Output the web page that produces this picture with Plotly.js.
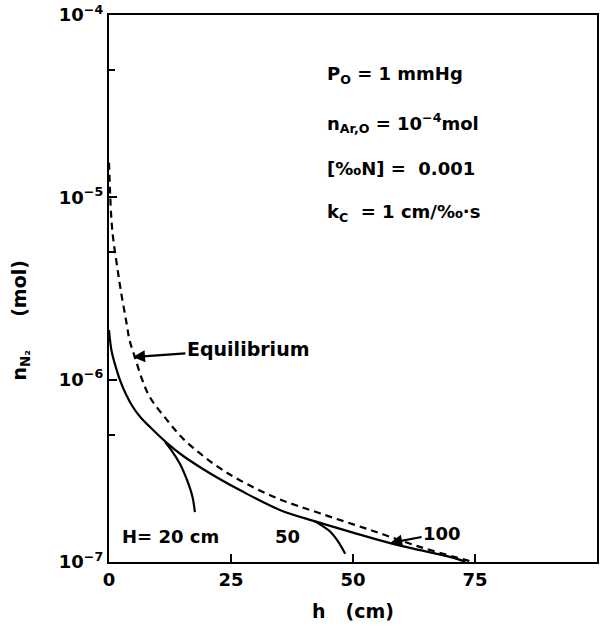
<!DOCTYPE html>
<html>
<head>
<meta charset="utf-8">
<script src="https://cdn.plot.ly/plotly-3.0.1.min.js"></script>
<style>html,body{margin:0;padding:0;background:#fff;}#chart{width:615px;height:636px;}</style>
</head>
<body>
<div id="chart"></div>
<script>
// Equilibrium (dashed)
const hEq = [0, 0.2, 0.5, 0.9, 1.6, 2.4, 3.6, 4.2, 5.3, 6.8, 8.4, 11.9, 15.0, 18.6, 22.5, 26.8, 34.4, 43.2, 53.5, 63.7, 73.4, 74.5];
const nEq = [1.55e-5, 1.1e-5, 7.5e-6, 5.8e-6, 4.3e-6, 3.1e-6, 2.04e-6, 1.65e-6, 1.33e-6, 1.0e-6, 8.0e-7, 6.0e-7, 4.8e-7, 3.95e-7, 3.3e-7, 2.81e-7, 2.24e-7, 1.85e-7, 1.5e-7, 1.21e-7, 1.02e-7, 1.0e-7];
// H = 100 cm (main solid curve)
const h100 = [0, 0.5, 1.2, 2.25, 3.5, 4.9, 6.5, 8.4, 11.9, 15.0, 18.6, 22.5, 26.8, 35.0, 42.6, 50.0, 57.6, 64.5, 71.3, 73.0];
const n100 = [1.87e-6, 1.45e-6, 1.22e-6, 9.95e-7, 8.3e-7, 7.08e-7, 6.2e-7, 5.5e-7, 4.49e-7, 3.85e-7, 3.32e-7, 2.87e-7, 2.48e-7, 1.93e-7, 1.66e-7, 1.45e-7, 1.27e-7, 1.15e-7, 1.04e-7, 1.0e-7];
// H = 20 cm branch
const h20 = [11.5, 12.8, 14.5, 16.0, 17.1, 17.6];
const n20 = [4.55e-7, 4.1e-7, 3.47e-7, 2.81e-7, 2.28e-7, 1.88e-7];
// H = 50 cm branch
const h50 = [42.0, 44.0, 45.3, 47.0, 48.4];
const n50 = [1.68e-7, 1.56e-7, 1.47e-7, 1.29e-7, 1.11e-7];

const xTickVals = [0, 25, 50, 75, 100];
const xTickText = ['0', '25', '50', '75', '100'];
const yTickVals = [1e-7, 1e-6, 1e-5, 1e-4];
const yTickText = ['10<sup>−7</sup>', '10<sup>−6</sup>', '10<sup>−5</sup>', '10<sup>−4</sup>'];
const yMinorVals = [5e-7, 5e-6, 5e-5];

const params = [
  'P<sub>O</sub> = 1 mmHg',
  'n<sub>Ar,O</sub> = 10<sup>−4</sup>mol',
  '[‰N] =  0.001',
  'k<sub>C</sub>  = 1 cm/‰·s'
];

const FONT = 'DejaVu Sans, sans-serif';
const lineStyle = {color: '#000', width: 2.2, shape: 'spline', smoothing: 1};

const traces = [
  {x: hEq, y: nEq, mode: 'lines', line: Object.assign({}, lineStyle, {dash: '7px,5px'}), hoverinfo: 'skip'},
  {x: h100, y: n100, mode: 'lines', line: lineStyle, hoverinfo: 'skip'},
  {x: h20, y: n20, mode: 'lines', line: lineStyle, hoverinfo: 'skip'},
  {x: h50, y: n50, mode: 'lines', line: lineStyle, hoverinfo: 'skip'},
  {x: [0], y: [1e-7], yaxis: 'y2', mode: 'markers', marker: {opacity: 0}, hoverinfo: 'skip'}
];

const bold = (size) => ({family: FONT, size: size, color: '#000', weight: 'bold'});

const paramY = [-4.33, -4.59, -4.84, -5.085];
const annotations = params.map((t, i) => ({
  text: t, xref: 'x', yref: 'y', x: 44.3, y: paramY[i], xanchor: 'left', yanchor: 'middle',
  showarrow: false, font: bold(18)
}));
annotations.push(
  {text: 'Equilibrium', xref: 'x', yref: 'y', x: 4.9, y: -5.876, ax: 115, ay: -8,
   showarrow: true, arrowhead: 2, arrowsize: 1.1, arrowwidth: 2.2, arrowcolor: '#000', standoff: 0,
   font: bold(19)},
  {text: 'H= 20 cm', xref: 'x', yref: 'y', x: 12.6, y: -6.86, showarrow: false, font: bold(18)},
  {text: '50', xref: 'x', yref: 'y', x: 36.6, y: -6.86, showarrow: false, font: bold(18)},
  {text: '100', xref: 'x', yref: 'y', x: 57.6, y: -6.896, ax: 52, ay: -10,
   showarrow: true, arrowhead: 2, arrowsize: 1.1, arrowwidth: 2.2, arrowcolor: '#000', standoff: 0,
   font: bold(18)},
  {text: 'n<sub>N₂</sub>     (mol)', xref: 'paper', yref: 'paper', x: -0.182, y: 0.442,
   xanchor: 'center', yanchor: 'middle', textangle: -90, showarrow: false, font: bold(19)}
);

const layout = {
  width: 615, height: 636,
  margin: {l: 109, r: 18, t: 15, b: 74},
  paper_bgcolor: '#fff', plot_bgcolor: '#fff',
  showlegend: false,
  font: {family: FONT, size: 18, color: '#000'},
  xaxis: {
    range: [0, 100], tickvals: xTickVals, ticktext: xTickText,
    ticks: 'inside', ticklen: 8, tickwidth: 2, tickcolor: '#000',
    showline: true, linewidth: 2.2, linecolor: '#000', mirror: true,
    showgrid: false, zeroline: false,
    tickfont: bold(18),
    title: {text: 'h   (cm)', font: bold(19), standoff: 16}
  },
  yaxis: {
    type: 'log', range: [-7, -4], tickvals: yTickVals, ticktext: yTickText,
    ticks: 'inside', ticklen: 8, tickwidth: 2, tickcolor: '#000',
    showline: true, linewidth: 2.2, linecolor: '#000', mirror: true,
    showgrid: false, zeroline: false,
    tickfont: bold(18)
  },
  yaxis2: {
    type: 'log', range: [-7, -4], overlaying: 'y', side: 'left',
    tickvals: yMinorVals, showticklabels: false,
    ticks: 'inside', ticklen: 6, tickwidth: 2, tickcolor: '#000',
    showline: false, showgrid: false, zeroline: false
  },
  annotations: annotations
};

Plotly.newPlot('chart', traces, layout, {staticPlot: true, displayModeBar: false});
</script>
</body>
</html>
